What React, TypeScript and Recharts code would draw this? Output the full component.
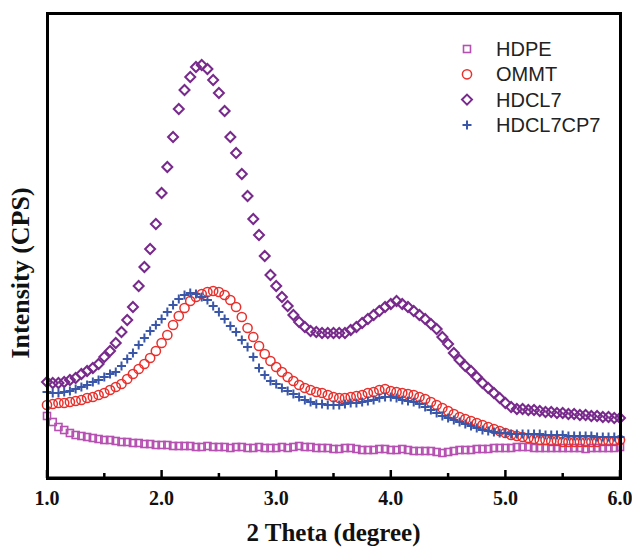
import React from "react";
import { LineChart, Line, XAxis, YAxis } from "recharts";

// 2 theta grid (degree)
const theta = [
  1.0, 1.05, 1.1, 1.15, 1.2, 1.25, 1.3, 1.35, 1.4, 1.45,
  1.5, 1.55, 1.6, 1.65, 1.7, 1.75, 1.8, 1.85, 1.9, 1.95,
  2.0, 2.05, 2.1, 2.15, 2.2, 2.25, 2.3, 2.35, 2.4, 2.45,
  2.5, 2.55, 2.6, 2.65, 2.7, 2.75, 2.8, 2.85, 2.9, 2.95,
  3.0, 3.05, 3.1, 3.15, 3.2, 3.25, 3.3, 3.35, 3.4, 3.45,
  3.5, 3.55, 3.6, 3.65, 3.7, 3.75, 3.8, 3.85, 3.9, 3.95,
  4.0, 4.05, 4.1, 4.15, 4.2, 4.25, 4.3, 4.35, 4.4, 4.45,
  4.5, 4.55, 4.6, 4.65, 4.7, 4.75, 4.8, 4.85, 4.9, 4.95,
  5.0, 5.05, 5.1, 5.15, 5.2, 5.25, 5.3, 5.35, 5.4, 5.45,
  5.5, 5.55, 5.6, 5.65, 5.7, 5.75, 5.8, 5.85, 5.9, 5.95,
  6.0,
];

const hdpe = [
  62, 56, 51, 48, 45, 43, 42, 41, 40, 39,
  38, 38, 37, 36, 36, 35, 35, 34, 34, 33,
  33, 33, 32, 32, 32, 32, 31, 31, 32, 31,
  31, 31, 30, 31, 31, 30, 30, 31, 30, 30,
  30, 31, 30, 31, 32, 31, 31, 30, 30, 30,
  29, 29, 30, 30, 29, 28, 28, 28, 29, 29,
  28, 28, 29, 28, 27, 27, 27, 27, 26, 25,
  26, 27, 28, 28, 28, 29, 29, 29, 30, 30,
  30, 30, 31, 31, 31, 30, 30, 30, 30, 30,
  30, 30, 30, 30, 29, 30, 30, 30, 30, 30,
  31,
];

const ommt = [
  73, 74, 75, 75, 76, 77, 78, 80, 81, 83,
  85, 88, 91, 94, 99, 104, 109, 114, 120, 127,
  135, 143, 153, 162, 170, 177, 181, 184, 186, 187,
  186, 183, 178, 171, 161, 150, 141, 132, 124, 117,
  111, 106, 101, 97, 93, 90, 88, 86, 85, 83,
  81, 80, 80, 81, 82, 83, 85, 86, 88, 89,
  87, 86, 85, 84, 83, 81, 79, 76, 73, 70,
  67, 64, 61, 59, 57, 55, 53, 51, 49, 47,
  45, 43, 42, 41, 40, 39, 38, 38, 37, 37,
  36, 36, 36, 36, 36, 36, 36, 37, 37, 37,
  38,
];

const hdcl7 = [
  96, 95, 95, 96, 98, 100, 104, 107, 110, 114,
  121, 127, 135, 146, 158, 171, 192, 211, 229, 254,
  285, 311, 341, 369, 388, 401, 411, 413, 409, 398,
  385, 367, 341, 325, 304, 282, 259, 243, 222, 203,
  192, 181, 172, 163, 156, 151, 147, 146, 145, 145,
  145, 145, 145, 148, 151, 155, 159, 163, 167, 171,
  174, 177, 174, 171, 167, 163, 159, 154, 149, 141,
  134, 125, 118, 112, 107, 101, 95, 90, 85, 80,
  75, 71, 69, 69, 68, 68, 67, 66, 66, 65,
  65, 64, 64, 63, 63, 62, 62, 61, 61, 60,
  60,
];

const hdcl7cp7 = [
  86, 85, 85, 86, 87, 89, 91, 93, 96, 98,
  101, 104, 106, 112, 119, 125, 133, 140, 147, 153,
  159, 166, 173, 179, 183, 185, 184, 181, 178, 172,
  166, 159, 152, 146, 138, 131, 121, 110, 103, 97,
  94, 90, 87, 84, 81, 78, 76, 74, 74, 73,
  73, 73, 74, 75, 75, 76, 77, 78, 80, 81,
  81, 80, 78, 77, 76, 74, 71, 68, 65, 62,
  60, 58, 56, 54, 52, 50, 48, 47, 46, 45,
  45, 44, 44, 44, 44, 44, 44, 43, 43, 43,
  43, 42, 42, 42, 42, 42, 41, 41, 41, 41,
  41,
];

const xTicks = [1, 1.5, 2, 2.5, 3, 3.5, 4, 4.5, 5, 5.5, 6];
const xDomain = [1, 6];
const yDomain = [0, 465];

const series = [
  { key: "hdpe", name: "HDPE", kind: "square", color: "#b651b2" },
  { key: "ommt", name: "OMMT", kind: "circle", color: "#e8302c" },
  { key: "hdcl7", name: "HDCL7", kind: "diamond", color: "#782a8c" },
  { key: "hdcl7cp7", name: "HDCL7CP7", kind: "plus", color: "#3a56a8" },
];

const data = theta.map((t, i) => ({
  theta: t,
  hdpe: hdpe[i],
  ommt: ommt[i],
  hdcl7: hdcl7[i],
  hdcl7cp7: hdcl7cp7[i],
}));

const serif = "'Liberation Serif', 'Times New Roman', serif";
const sans = "'Liberation Sans', Arial, sans-serif";
const margin = { top: 13, right: 12, bottom: 0, left: 47 };
const W = 632;
const H = 549;
const xAxisHeight = 71;

function Marker({ kind, cx, cy, color }: any) {
  if (kind === "square") {
    return (
      <rect x={cx - 3.5} y={cy - 3.5} width={7} height={7} fill="none" stroke={color} strokeWidth={1.6} />
    );
  }
  if (kind === "circle") {
    return <circle cx={cx} cy={cy} r={4.6} fill="none" stroke={color} strokeWidth={1.5} />;
  }
  if (kind === "diamond") {
    return (
      <path
        d={`M${cx},${cy - 5} L${cx + 5},${cy} L${cx},${cy + 5} L${cx - 5},${cy} Z`}
        fill="none"
        stroke={color}
        strokeWidth={2}
      />
    );
  }
  return (
    <path
      d={`M${cx - 4.5},${cy} H${cx + 4.5} M${cx},${cy - 4.5} V${cy + 4.5}`}
      stroke={color}
      strokeWidth={2}
    />
  );
}

const dotFor = (kind: string, color: string) => (props: any) => {
  const { cx, cy, index } = props;
  if (cx == null || cy == null) return <g key={index} />;
  return (
    <g key={index}>
      <Marker kind={kind} cx={cx} cy={cy} color={color} />
    </g>
  );
};

function ThetaTick(props: any) {
  const { x, y, payload } = props;
  const major = Number.isInteger(payload.value);
  return (
    <g>
      <line x1={x} y1={y} x2={x} y2={y - (major ? 8 : 5)} stroke="#000" strokeWidth={2.5} />
      {major && (
        <text
          x={x}
          y={y + 27}
          textAnchor="middle"
          fontFamily={serif}
          fontWeight="bold"
          fontSize={20}
          fill="#111"
        >
          {payload.value.toFixed(1)}
        </text>
      )}
    </g>
  );
}

function XTitle(p: any) {
  const vb = p.viewBox;
  return (
    <text
      x={vb.x + vb.width / 2}
      y={vb.y + 63}
      textAnchor="middle"
      fontFamily={serif}
      fontWeight="bold"
      fontSize={25}
      fill="#111"
    >
      2 Theta (degree)
    </text>
  );
}

// outer box round the plot area, drawn as a bordered block
function PlotFrame() {
  const w = W - margin.left - margin.right;
  const h = H - margin.top - margin.bottom - xAxisHeight;
  return (
    <div
      style={{
        position: "absolute",
        left: margin.left - 1.5,
        top: margin.top - 1.5,
        width: w + 3,
        height: h + 3,
        boxSizing: "border-box",
        border: "3px solid #000",
        pointerEvents: "none",
      }}
    />
  );
}

function LegendBox() {
  return (
    <svg
      width={175}
      height={110}
      style={{ position: "absolute", left: 455, top: 30 }}
    >
      {series.map((s, i) => {
        const base = 26 + i * 25.3;
        return (
          <g key={s.key}>
            <Marker kind={s.kind} cx={12} cy={base - 7} color={s.color} />
            <text x={41} y={base} fontFamily={sans} fontSize={20} fill="#222">
              {s.name}
            </text>
          </g>
        );
      })}
    </svg>
  );
}

function YTitle() {
  const cx = 29;
  const cy = 273;
  return (
    <svg width={44} height={549} style={{ position: "absolute", left: 0, top: 0 }}>
      <text
        x={cx}
        y={cy}
        transform={`rotate(-90, ${cx}, ${cy})`}
        textAnchor="middle"
        fontFamily={serif}
        fontWeight="bold"
        fontSize={26}
        fill="#111"
      >
        Intensity (CPS)
      </text>
    </svg>
  );
}

export default function App() {
  return (
    <div style={{ position: "absolute", left: 0, top: 0, width: W, height: H, background: "#fff" }}>
      <YTitle />
      <LegendBox />
      <div style={{ position: "absolute", left: 0, top: 0 }}>
        <LineChart width={W} height={H} data={data} margin={margin}>
          <XAxis
            dataKey="theta"
            type="number"
            domain={xDomain}
            ticks={xTicks}
            interval={0}
            tickSize={0}
            tickMargin={0}
            axisLine={{ stroke: "#000", strokeWidth: 3 }}
            tickLine={false}
            tick={<ThetaTick />}
            height={xAxisHeight}
            label={{ content: XTitle }}
          />
          <YAxis
            type="number"
            domain={yDomain}
            width={0}
            axisLine={false}
            tickLine={false}
            tick={false}
          />
          {series.map((s) => (
            <Line
              key={s.key}
              dataKey={s.key}
              name={s.name}
              stroke="none"
              isAnimationActive={false}
              dot={dotFor(s.kind, s.color)}
              activeDot={false}
              legendType="none"
            />
          ))}
        </LineChart>
      </div>
      <PlotFrame />
    </div>
  );
}
